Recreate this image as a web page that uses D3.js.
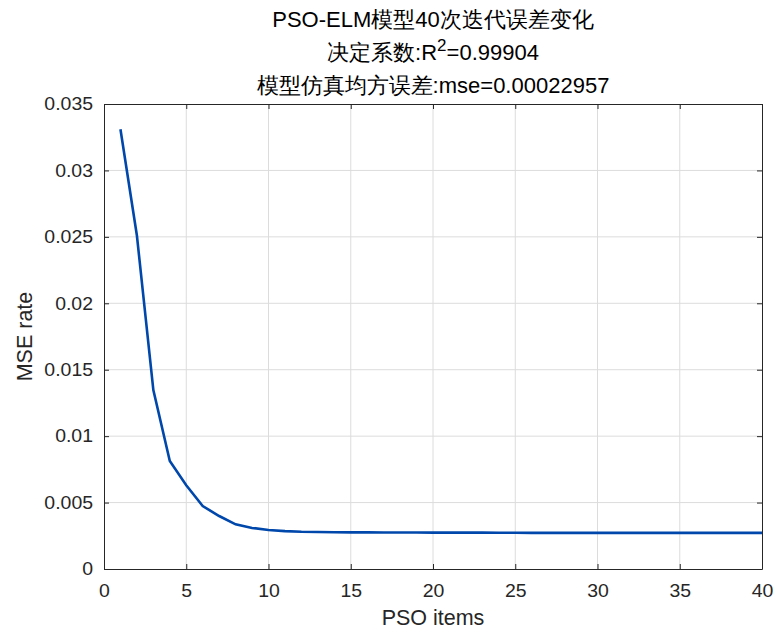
<!DOCTYPE html>
<html><head><meta charset="utf-8">
<script src="https://cdn.jsdelivr.net/npm/d3@7"></script>
<style>body{margin:0;background:#fff}text{font-family:"Liberation Sans",Arial,sans-serif}</style>
</head><body>
<svg id="c" width="776" height="632"></svg>
<script>
const iterations = d3.range(1, 41);
const mseValues = [0.0331,0.0251,0.01347,0.00813,0.0063,0.00474,0.00399,0.00336,0.00309,0.00294,
0.00285,0.0028,0.00278,0.00277,0.00276,0.00276,0.00275,0.00275,0.00275,0.00274,
0.00274,0.00274,0.00274,0.00273,0.00273,0.00272,0.00272,0.00272,0.00272,0.00272,
0.00272,0.00272,0.00272,0.00272,0.00272,0.00272,0.00272,0.00272,0.00272,0.00272];
const xTicks = [0,5,10,15,20,25,30,35,40];
const yTicks = [0,0.005,0.01,0.015,0.02,0.025,0.03,0.035];
const yTickLabels = ["0","0.005","0.01","0.015","0.02","0.025","0.03","0.035"];
const titleLines = ["PSO-ELM模型40次迭代误差变化","决定系数:R","模型仿真均方误差:mse=0.00022957"];

const svg = d3.select("#c");
const L=104,R=762,T=104,B=569;
const x = d3.scaleLinear().domain([0,40]).range([L,R]);
const y = d3.scaleLinear().domain([0,0.035]).range([B,T]);

// grid
svg.append("g").selectAll("line").data(xTicks.slice(1,-1)).join("line")
  .attr("x1",d=>x(d)).attr("x2",d=>x(d)).attr("y1",T).attr("y2",B)
  .attr("stroke","#dcdcdc").attr("stroke-width",1);
svg.append("g").selectAll("line").data(yTicks.slice(1,-1)).join("line")
  .attr("y1",d=>y(d)).attr("y2",d=>y(d)).attr("x1",L).attr("x2",R)
  .attr("stroke","#dcdcdc").attr("stroke-width",1);

// axes
const xa = svg.append("g").attr("transform",`translate(0,${B})`)
  .call(d3.axisBottom(x).tickValues(xTicks).tickSizeInner(-5).tickSizeOuter(0).tickPadding(15));
const xt = svg.append("g").attr("transform",`translate(0,${T})`)
  .call(d3.axisTop(x).tickValues(xTicks).tickSizeInner(-5).tickSizeOuter(0).tickFormat(""));
const ya = svg.append("g").attr("transform",`translate(${L},0)`)
  .call(d3.axisLeft(y).tickValues(yTicks).tickFormat((d,i)=>yTickLabels[i]).tickSizeInner(-5).tickSizeOuter(0).tickPadding(11));
const yr = svg.append("g").attr("transform",`translate(${R},0)`)
  .call(d3.axisRight(y).tickValues(yTicks).tickSizeInner(-5).tickSizeOuter(0).tickFormat(""));
[xa,xt,ya,yr].forEach(g=>{
  g.selectAll("path.domain").attr("stroke","#262626").attr("stroke-width",1);
  g.selectAll(".tick line").attr("stroke","#262626");
  g.selectAll("text").attr("font-size",18).attr("fill","#262626").attr("font-family","'Liberation Sans',Arial,sans-serif");
});
[xa,ya].forEach(g=>g.selectAll("text").each(function(){
  const w=this.getComputedTextLength();
  d3.select(this).attr("textLength",w*1.08).attr("lengthAdjust","spacingAndGlyphs");
}));

// line
svg.append("path").datum(iterations.map((d,i)=>[d,mseValues[i]]))
  .attr("fill","none").attr("stroke","#0047ab").attr("stroke-width",2.6)
  .attr("d",d3.line().x(d=>x(d[0])).y(d=>y(d[1])));

// labels
svg.append("text").attr("x",(L+R)/2).attr("y",625).attr("text-anchor","middle")
  .attr("font-size",21.5).attr("fill","#262626").text("PSO items");
svg.append("text").attr("transform",`translate(32,${(T+B)/2}) rotate(-90)`).attr("text-anchor","middle")
  .attr("font-size",21.5).attr("fill","#262626").text("MSE rate");

// title
const cx=(L+R)/2;
svg.append("text").attr("x",cx).attr("y",27).attr("text-anchor","middle").attr("font-size",22).attr("fill","#000").text(titleLines[0]);
const t2 = svg.append("text").attr("x",cx).attr("y",60).attr("text-anchor","middle").attr("font-size",22).attr("fill","#000");
t2.append("tspan").text(titleLines[1]);
t2.append("tspan").attr("dy",-9).attr("font-size",17).text("2");
t2.append("tspan").attr("dy",9).text("=0.99904");
svg.append("text").attr("x",cx).attr("y",93).attr("text-anchor","middle").attr("font-size",22).attr("fill","#000").text(titleLines[2]);
</script>
</body></html>
